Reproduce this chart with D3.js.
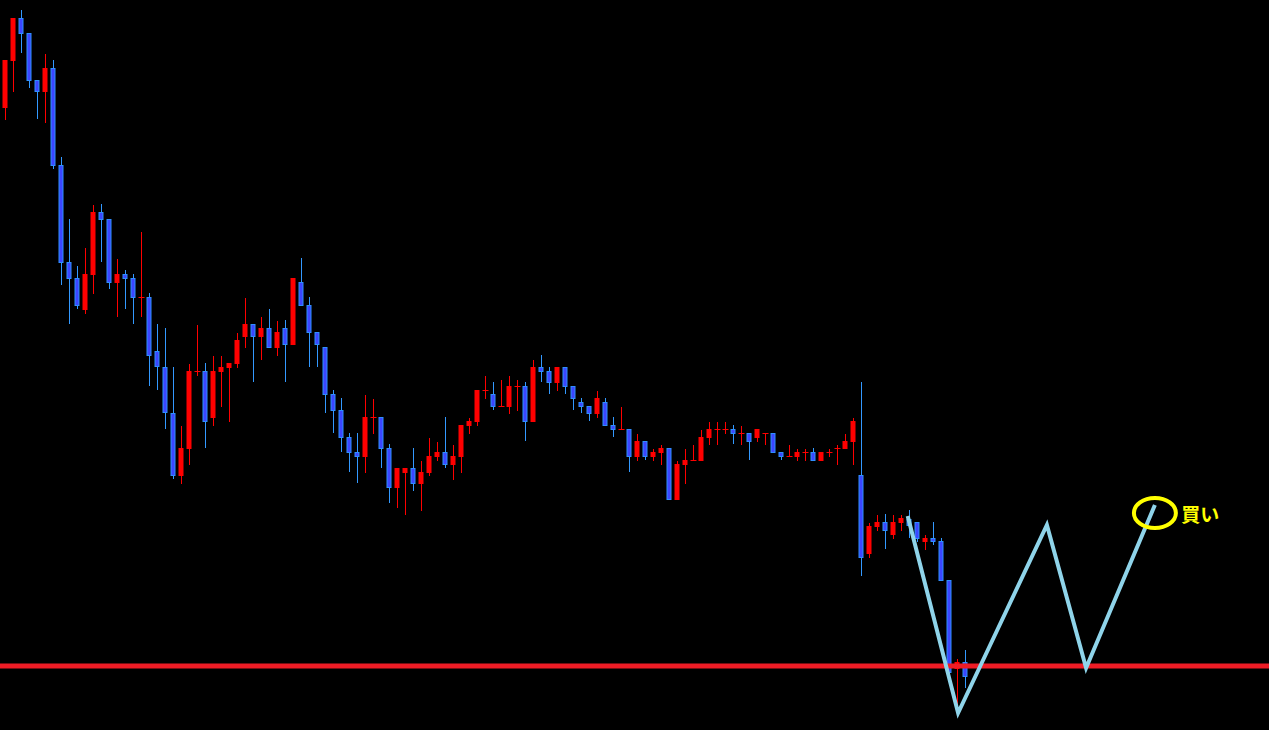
<!DOCTYPE html>
<html><head><meta charset="utf-8">
<script src="https://cdn.jsdelivr.net/npm/d3@7"></script>
<style>html,body{margin:0;padding:0;background:#000;overflow:hidden}</style>
</head><body>
<svg id="c" width="1269" height="730"></svg>
<script>
// OHLC values (price units)
const opens  = [692,739,782,767,720,708,732,635,538,522,490,525,588,581,517,526,522,503,503,449,433,387,324,351,429,429,382,428,432,436,463,476,463,472,452,472,455,518,495,468,453,406,390,363,348,343,383,383,352,312,327,332,316,327,343,348,335,343,374,378,410,406,394,393,414,414,378,433,429,417,433,414,398,394,386,398,375,371,371,343,359,343,347,352,300,335,340,339,362,371,371,371,367,367,362,367,367,348,344,343,348,348,339,348,352,351,358,325,246,273,278,265,277,281,278,258,262,259,220,131,138];
const highs  = [740,782,790,767,720,746,740,643,581,534,552,595,596,581,541,530,526,568,507,476,472,433,374,436,475,437,444,444,437,467,502,476,483,491,479,480,522,542,503,468,453,410,402,367,367,405,401,383,356,332,332,352,339,362,358,383,355,375,382,410,424,418,420,424,420,418,440,445,433,433,433,414,402,394,409,402,383,393,371,366,359,351,355,352,339,351,355,370,378,378,378,375,374,367,371,367,367,348,355,351,351,352,348,351,355,366,382,418,277,285,286,285,285,290,278,265,278,262,220,141,150];
const lows   = [680,708,747,712,681,677,631,515,476,491,486,506,538,511,483,491,476,483,414,410,371,321,316,335,424,352,374,393,378,432,452,418,440,452,444,418,455,494,433,433,387,367,348,328,317,327,366,332,297,292,285,309,289,324,339,332,320,327,366,374,401,390,394,386,389,359,378,418,406,409,406,390,387,379,382,374,363,371,328,339,340,339,335,300,300,316,340,339,355,355,366,356,355,340,358,355,347,340,344,339,339,339,339,343,335,351,335,224,242,269,251,261,269,262,258,250,255,219,125,83,112];
const closes = [740,782,766,719,708,732,634,537,521,494,526,588,580,517,526,521,502,503,444,433,387,324,352,429,429,378,429,433,437,460,476,463,472,452,468,455,522,494,467,455,405,389,362,347,343,383,383,351,312,332,332,316,328,344,348,335,344,375,379,410,410,393,394,414,414,378,433,428,417,433,413,401,393,386,402,374,370,371,343,359,343,348,352,300,336,340,340,363,371,371,371,366,367,358,371,367,347,343,344,348,348,339,348,348,352,359,379,242,274,278,269,278,282,274,261,262,258,219,127,138,123];

// Support line price and W-pattern path (bar index, price)
const supportPrice = 134;
const wIndex = [112.8, 119.1, 130.2, 135.1, 143.7];
const wPrice = [284, 87, 275, 132, 295];
const buyLabel = "買い";
const buyIndex = 143.7, buyPrice = 287, buyTextIndex = 147;

const W = 1269, H = 730;
const svg = d3.select("#c");
svg.append("rect").attr("width", W).attr("height", H).attr("fill", "#000");

const x = d3.scaleLinear().domain([0, 158]).range([5.3, 5.3 + 158 * 8]);
const y = d3.scaleLinear().domain([70, 800]).range([H, 0]);

const data = opens.map((o, i) => ({i, o, h: highs[i], l: lows[i], c: closes[i]}));
const up = d => d.c >= d.o;
const cx = d => Math.round(x(d.i)) + 0.5;

const g = svg.append("g");
// wicks
g.selectAll("line.wick").data(data).join("line")
  .attr("class", "wick")
  .attr("x1", cx).attr("x2", cx)
  .attr("y1", d => y(d.h)).attr("y2", d => y(d.l))
  .attr("stroke", d => up(d) ? "#ff0000" : "#3399ff")
  .attr("stroke-width", 1);
// bodies
g.selectAll("rect.body").data(data.filter(d => d.o !== d.c)).join("rect")
  .attr("class", "body")
  .attr("x", d => up(d) ? cx(d) - 3 : cx(d) - 2.5)
  .attr("width", d => up(d) ? 5 : 4)
  .attr("y", d => up(d) ? y(Math.max(d.o, d.c)) : y(Math.max(d.o, d.c)) + 0.5)
  .attr("height", d => up(d) ? Math.max(1, Math.abs(y(d.o) - y(d.c))) : Math.max(1, Math.abs(y(d.o) - y(d.c)) - 1))
  .attr("fill", d => up(d) ? "#ff0000" : "#3c46ff")
  .attr("stroke", d => up(d) ? "none" : "#2f8fff")
  .attr("stroke-width", 1);
// doji ticks
g.selectAll("line.doji").data(data.filter(d => d.o === d.c)).join("line")
  .attr("class", "doji")
  .attr("x1", d => cx(d) - 3).attr("x2", d => cx(d) + 3)
  .attr("y1", d => Math.round(y(d.o)) + 0.5).attr("y2", d => Math.round(y(d.o)) + 0.5)
  .attr("stroke", "#ff0000").attr("stroke-width", 1);

// support line
svg.append("line")
  .attr("x1", 0).attr("x2", W)
  .attr("y1", y(supportPrice)).attr("y2", y(supportPrice))
  .attr("stroke", "#ee1c25").attr("stroke-width", 5);

// W pattern
const wLine = d3.line().x(d => x(d[0])).y(d => y(d[1]));
svg.append("path")
  .attr("d", wLine(wIndex.map((v, k) => [v, wPrice[k]])))
  .attr("fill", "none").attr("stroke", "#8fd4ea").attr("stroke-width", 4)
  .attr("stroke-linejoin", "miter");

// buy marker
svg.append("ellipse")
  .attr("cx", x(buyIndex)).attr("cy", y(buyPrice))
  .attr("rx", 21).attr("ry", 15)
  .attr("fill", "none").attr("stroke", "#ffff00").attr("stroke-width", 4);
svg.append("text")
  .attr("x", x(buyTextIndex)).attr("y", y(buyPrice))
  .attr("dominant-baseline", "central")
  .attr("fill", "#ffff00")
  .attr("font-family", "'Noto Sans CJK JP', sans-serif")
  .attr("font-weight", "bold").attr("font-size", 19)
  .text(buyLabel);
</script>
</body></html>
